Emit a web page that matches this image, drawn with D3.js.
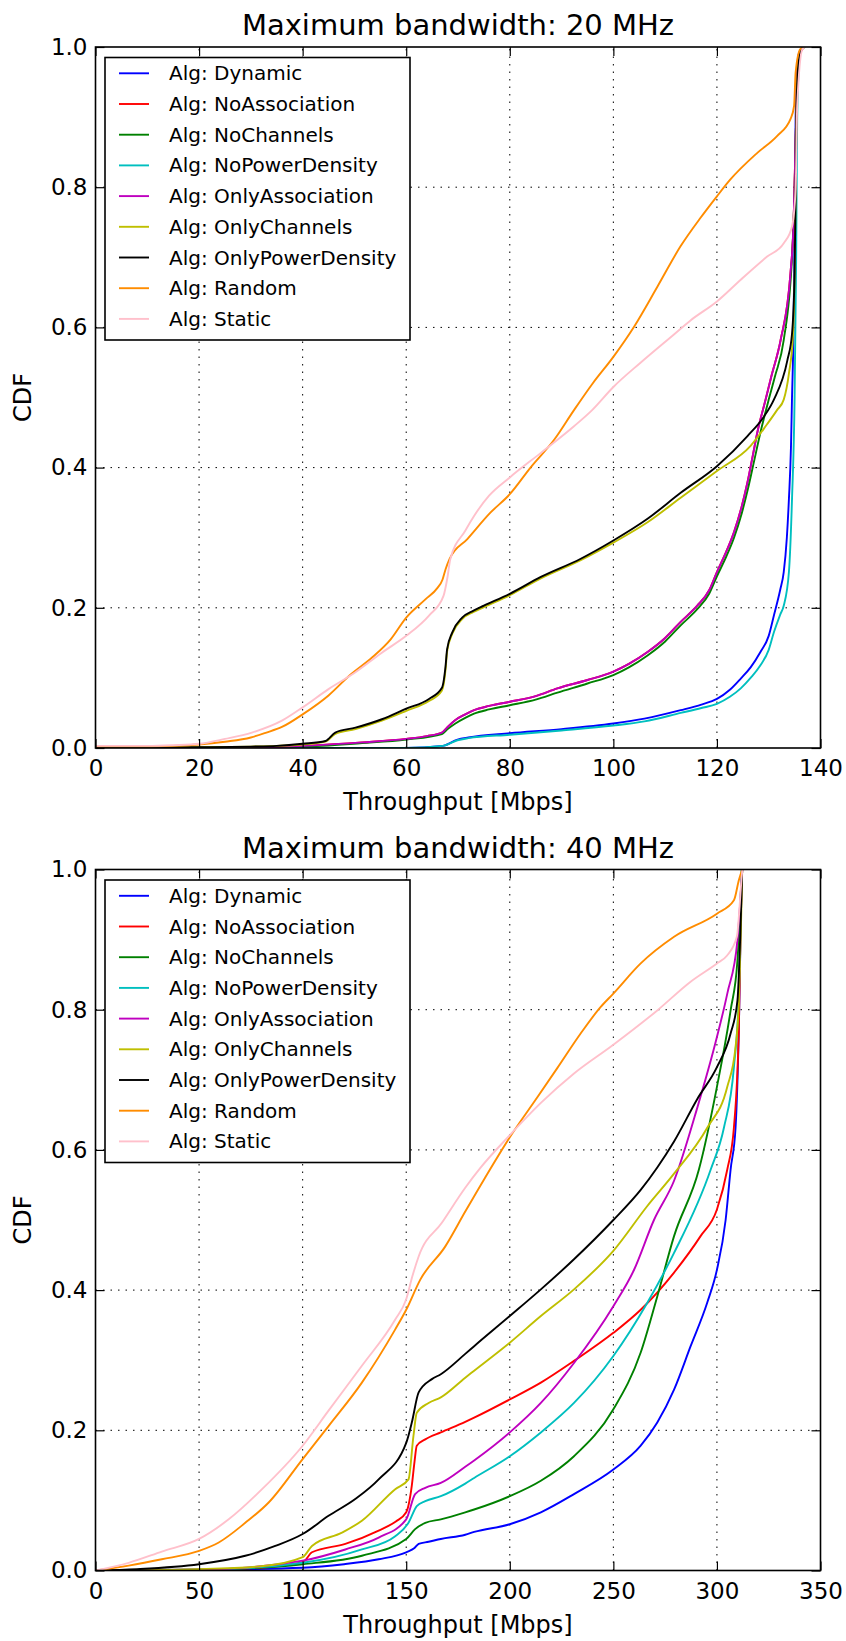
<!DOCTYPE html>
<html>
<head>
<meta charset="utf-8">
<script src="https://cdn.jsdelivr.net/npm/d3@7"></script>
<style>
  body { margin: 0; background: #fff; }
  svg { display: block; font-family: "DejaVu Sans", sans-serif; }
</style>
</head>
<body>
<svg id="chart" width="846" height="1641"></svg>
<script>
// Legend labels and matplotlib classic colours
const algorithms = ["Alg: Dynamic", "Alg: NoAssociation", "Alg: NoChannels", "Alg: NoPowerDensity",
  "Alg: OnlyAssociation", "Alg: OnlyChannels", "Alg: OnlyPowerDensity", "Alg: Random", "Alg: Static"];
const colors = ["#0000ff", "#ff0000", "#008000", "#00bfbf", "#bf00bf", "#bfbf00", "#000000", "#ff8c00", "#ffc0cb"];

const yTicks = [0, 0.2, 0.4, 0.6, 0.8, 1.0];
const xTicks20 = [0, 20, 40, 60, 80, 100, 120, 140];
const xTicks40 = [0, 50, 100, 150, 200, 250, 300, 350];

// ---- 20 MHz: [throughput, cdf] ----
const dynamic20 = [[0,0],[60,0],[67,0.003],[69.9,0.012],[72,0.015],[80,0.021],[90,0.027],[100,0.035],[106,0.042],[113,0.054],[117,0.062],[120,0.07],[122.5,0.083],[124.6,0.099],[126.5,0.115],[128.4,0.137],[130,0.16],[131,0.189],[132.2,0.225],[132.9,0.251],[133.5,0.3],[133.9,0.355],[134.3,0.43],[134.5,0.5],[134.8,0.6],[135,0.75],[135.2,0.9],[135.4,0.95],[135.8,0.99],[136.6,1]];
// NoAssociation sits under OnlyAssociation in this panel
const noAssociation20 = [[0,0],[30,0],[40,0.003],[51.5,0.008],[60,0.013],[64,0.017],[66.9,0.022],[68,0.03],[69.5,0.04],[71.4,0.048],[73.1,0.054],[76,0.06],[80,0.066],[85,0.074],[89.2,0.085],[95,0.097],[100,0.109],[103,0.12],[106.6,0.137],[110,0.157],[113,0.18],[116.2,0.203],[118.5,0.225],[120,0.251],[121.8,0.28],[123.3,0.308],[124.8,0.345],[125.9,0.379],[127,0.42],[127.8,0.45],[129.4,0.497],[130.5,0.53],[132.3,0.582],[134.2,0.677],[134.8,0.749],[135.2,0.868],[135.5,0.95],[136,0.99],[136.8,1]];
const noChannels20 = [[0,0],[40,0.002],[51.5,0.007],[60,0.012],[66.9,0.02],[68,0.027],[69.5,0.035],[71.4,0.043],[73.1,0.049],[76,0.055],[80,0.061],[85,0.069],[89.2,0.079],[95,0.092],[100,0.104],[103,0.115],[106.6,0.132],[110,0.152],[113,0.175],[116.2,0.198],[118.5,0.22],[120,0.245],[121.8,0.273],[123.3,0.3],[124.8,0.335],[126,0.37],[127.2,0.41],[128.4,0.45],[130,0.497],[131.2,0.53],[132.9,0.582],[134.5,0.7],[135,0.8],[135.3,0.9],[135.6,0.96],[136.2,0.995],[137,1]];
const noPowerDensity20 = [[0,0],[60,0],[67,0.003],[69.9,0.011],[72,0.014],[80,0.019],[90,0.025],[100,0.032],[106,0.038],[113,0.05],[117,0.057],[120,0.063],[122.5,0.073],[124.6,0.085],[126.5,0.1],[128.4,0.118],[130,0.14],[131,0.165],[132.2,0.19],[132.9,0.203],[133.9,0.251],[134.5,0.355],[135,0.5],[135.3,0.7],[135.5,0.9],[135.8,0.97],[136.2,0.995],[137,1]];
const onlyAssociation20 = [[0,0],[30,0],[40,0.003],[51.5,0.008],[60,0.013],[64,0.017],[66.9,0.022],[68,0.03],[69.5,0.04],[71.4,0.048],[73.1,0.054],[76,0.06],[80,0.066],[85,0.074],[89.2,0.085],[95,0.097],[100,0.109],[103,0.12],[106.6,0.137],[110,0.157],[113,0.18],[116.2,0.203],[118.5,0.225],[120,0.251],[121.8,0.28],[123.3,0.308],[124.8,0.345],[125.9,0.379],[127,0.42],[127.8,0.45],[129.4,0.497],[130.5,0.53],[132.3,0.582],[134.2,0.677],[134.8,0.749],[135.2,0.868],[135.5,0.95],[136,0.99],[136.8,1]];
const onlyChannels20 = [[0,0],[20,0.001],[30,0.002],[35,0.003],[40,0.005],[44.4,0.009],[46.3,0.02],[50.2,0.027],[55.3,0.039],[60,0.053],[64.4,0.067],[66.9,0.082],[67.6,0.112],[67.9,0.138],[68.9,0.163],[70.8,0.184],[73,0.194],[75,0.201],[80,0.218],[86,0.242],[93.7,0.268],[100,0.293],[106.6,0.322],[113,0.357],[120,0.395],[126.5,0.431],[129.5,0.46],[131.6,0.482],[132.9,0.497],[133.9,0.534],[134.7,0.59],[135,0.677],[135.2,0.8],[135.4,0.92],[135.8,0.98],[136.5,1]];
const onlyPowerDensity20 = [[0,0],[20,0.001],[30,0.002],[35,0.003],[40,0.006],[44.4,0.01],[46.3,0.022],[50.2,0.029],[55.3,0.041],[60,0.056],[64.4,0.07],[66.9,0.086],[67.6,0.117],[67.9,0.141],[68.9,0.165],[70.8,0.186],[73,0.196],[75,0.203],[80,0.22],[86,0.244],[93.7,0.27],[100,0.296],[106.6,0.327],[113,0.364],[120,0.402],[125.9,0.445],[129.1,0.473],[131,0.497],[133.6,0.553],[134.5,0.591],[135,0.677],[135.2,0.797],[135.4,0.92],[135.8,0.98],[136.5,1]];
const random20 = [[0,0.002],[10,0.002],[15,0.003],[20,0.005],[25,0.009],[30,0.015],[33,0.022],[36,0.03],[40,0.048],[45,0.075],[49,0.103],[53.4,0.129],[57,0.155],[60,0.186],[63.7,0.212],[66,0.228],[67,0.24],[67.6,0.255],[68.4,0.27],[71.8,0.298],[76.3,0.336],[80,0.362],[84,0.4],[88.6,0.44],[92.4,0.482],[96,0.52],[100,0.558],[104,0.601],[108.5,0.658],[113,0.716],[116.8,0.756],[120,0.787],[122.6,0.811],[127.8,0.849],[131.6,0.873],[134.2,0.897],[134.9,0.916],[135.2,0.964],[136.1,0.997],[136.8,1]];
const static20 = [[0,0.003],[10,0.003],[15,0.004],[20,0.006],[25,0.013],[30.2,0.022],[36,0.039],[40,0.058],[45,0.084],[50.2,0.108],[55.3,0.136],[60,0.16],[64.4,0.189],[67.2,0.217],[68,0.245],[68.5,0.269],[71.4,0.31],[73.1,0.331],[76,0.36],[80,0.386],[86,0.421],[92.4,0.459],[95.9,0.482],[100,0.515],[105.3,0.55],[111.7,0.59],[114.9,0.61],[120,0.637],[124.6,0.668],[129.7,0.701],[132.9,0.72],[134.5,0.744],[135.2,0.797],[135.5,0.916],[136.5,0.997],[137,1]];

// ---- 40 MHz ----
const dynamic40 = [[0,0],[50,0.001],[100,0.004],[120,0.009],[136.7,0.016],[150,0.026],[154,0.032],[156,0.038],[160.8,0.041],[166.7,0.045],[178.5,0.051],[182.8,0.055],[200,0.066],[215,0.083],[231,0.109],[250,0.144],[263.2,0.178],[271.2,0.211],[279.3,0.258],[287.3,0.32],[295.3,0.382],[300,0.429],[304.2,0.5],[306.6,0.572],[309,0.632],[310.6,0.775],[311.8,0.966],[312.2,1]];
const noAssociation40 = [[0,0],[50,0.001],[80,0.004],[100,0.012],[101,0.014],[104.5,0.026],[120.6,0.038],[136.7,0.057],[145,0.07],[150,0.083],[152.7,0.121],[154,0.155],[155.1,0.178],[159.2,0.187],[166.7,0.197],[178.5,0.212],[182.8,0.218],[200,0.244],[215,0.268],[231,0.299],[250,0.339],[263.2,0.372],[279.3,0.425],[292.1,0.477],[300,0.515],[305,0.572],[308.2,0.632],[310.6,0.775],[311.4,0.918],[312.2,1]];
const noChannels40 = [[0,0],[50,0.001],[100,0.009],[128.6,0.021],[150,0.045],[154.3,0.059],[159.2,0.068],[166.7,0.073],[178.5,0.083],[182.8,0.087],[200,0.106],[215,0.128],[231,0.163],[250,0.23],[263.2,0.311],[271.2,0.391],[279.3,0.477],[291.3,0.572],[300,0.69],[306.6,0.799],[309.9,0.87],[312,1]];
const noPowerDensity40 = [[0,0],[50,0.001],[100,0.011],[128.6,0.03],[144.7,0.049],[151.1,0.068],[155.1,0.092],[159.2,0.099],[166.7,0.106],[178.5,0.124],[182.8,0.132],[200,0.163],[215,0.197],[231,0.239],[250,0.306],[266.4,0.382],[279.3,0.453],[297,0.572],[303.4,0.632],[308.2,0.718],[310.6,0.823],[312,1]];
const onlyAssociation40 = [[0,0],[50,0.001],[100,0.014],[120.6,0.03],[136.7,0.047],[150,0.073],[154.3,0.109],[159.2,0.118],[166.7,0.125],[178.5,0.148],[182.8,0.157],[200,0.197],[215,0.239],[231,0.296],[250,0.377],[260,0.429],[269.6,0.5],[279.3,0.556],[290.6,0.661],[300,0.761],[305,0.823],[309.9,0.899],[312.2,1]];
const onlyChannels40 = [[0,0],[50,0.002],[80,0.006],[100,0.019],[104.5,0.035],[119,0.054],[128.6,0.071],[144.7,0.116],[151.1,0.13],[153.5,0.192],[155.1,0.225],[160.8,0.239],[166.7,0.247],[178.5,0.275],[182.8,0.285],[200,0.325],[215,0.363],[231,0.401],[250,0.456],[266.4,0.52],[279,0.565],[295.4,0.632],[305,0.69],[309,0.747],[310.6,0.813],[311.6,0.918],[312.2,1]];
const onlyPowerDensity40 = [[0,0],[20,0.002],[50,0.009],[72.3,0.021],[86.8,0.035],[100,0.052],[112.5,0.078],[125.4,0.102],[136.7,0.13],[150,0.182],[152.7,0.211],[156,0.254],[162.4,0.273],[166.7,0.28],[178.5,0.309],[182.8,0.32],[200,0.363],[215,0.401],[231,0.444],[250,0.5],[263.2,0.543],[271.2,0.575],[279.3,0.612],[290.6,0.673],[300,0.718],[306.6,0.766],[309.9,0.813],[311.4,0.918],[312.2,1]];
const random40 = [[0,0],[16,0.007],[32,0.016],[50,0.028],[59.5,0.04],[72.3,0.068],[83.6,0.097],[100,0.159],[112.5,0.206],[128.6,0.268],[144.7,0.344],[150,0.372],[156.8,0.415],[168.8,0.462],[178.5,0.512],[188,0.56],[200,0.618],[213.3,0.675],[223,0.717],[234.2,0.766],[243.9,0.804],[250,0.823],[263.2,0.866],[279.3,0.904],[300,0.937],[308.2,0.956],[310.6,0.985],[312.2,1]];
const static40 = [[0,0],[16,0.011],[32,0.027],[50,0.045],[64.3,0.073],[80.4,0.116],[100,0.178],[112.5,0.228],[128.6,0.292],[144.7,0.358],[150,0.387],[153,0.42],[156,0.448],[167.2,0.496],[178.5,0.546],[186,0.575],[200,0.621],[215,0.667],[231,0.709],[250,0.75],[271.2,0.799],[287.3,0.84],[300,0.866],[304.8,0.877],[309.6,0.904],[312.1,0.994],[312.3,1]];

const panels = [
  { title: "Maximum bandwidth: 20 MHz", xMax: 140, xTicks: xTicks20, top: 47,
    series: [dynamic20, noAssociation20, noChannels20, noPowerDensity20, onlyAssociation20,
             onlyChannels20, onlyPowerDensity20, random20, static20] },
  { title: "Maximum bandwidth: 40 MHz", xMax: 350, xTicks: xTicks40, top: 869.5,
    series: [dynamic40, noAssociation40, noChannels40, noPowerDensity40, onlyAssociation40,
             onlyChannels40, onlyPowerDensity40, random40, static40] }
];

const plotLeft = 95.5, plotRight = 820.5, plotHeight = 701;
const svg = d3.select("#chart");

panels.forEach((p, pi) => {
  const x = d3.scaleLinear().domain([0, p.xMax]).range([plotLeft, plotRight]);
  const y = d3.scaleLinear().domain([0, 1]).range([p.top + plotHeight, p.top]);
  const g = svg.append("g");

  // Dotted grid
  g.append("g").selectAll("line").data(p.xTicks.slice(1, -1)).enter().append("line")
    .attr("x1", d => x(d)).attr("x2", d => x(d))
    .attr("y1", y(0)).attr("y2", y(1))
    .attr("stroke", "#000").attr("stroke-width", 1).attr("stroke-dasharray", "1.5,6");
  g.append("g").selectAll("line").data(yTicks.slice(1, -1)).enter().append("line")
    .attr("x1", plotLeft).attr("x2", plotRight)
    .attr("y1", d => y(d)).attr("y2", d => y(d))
    .attr("stroke", "#000").attr("stroke-width", 1).attr("stroke-dasharray", "1.5,6");

  // Clip lines to the axes box
  const clipId = "clip" + pi;
  g.append("clipPath").attr("id", clipId).append("rect")
    .attr("x", plotLeft).attr("y", p.top).attr("width", plotRight - plotLeft).attr("height", plotHeight);

  const line = d3.line().x(d => x(d[0])).y(d => y(d[1])).curve(d3.curveMonotoneX);
  g.append("g").attr("clip-path", `url(#${clipId})`)
    .selectAll("path").data(p.series).enter().append("path")
    .attr("d", line)
    .attr("fill", "none")
    .attr("stroke", (d, i) => colors[i])
    .attr("stroke-width", 1.9)
    .attr("stroke-linejoin", "round");

  // Axes with inward ticks on all four sides
  const axisStyle = sel => {
    sel.select(".domain").remove();
    sel.selectAll(".tick line").attr("stroke", "#000").attr("stroke-width", 1.2);
    sel.selectAll("text").attr("font-size", 23).attr("fill", "#000").attr("font-family", "DejaVu Sans");
  };
  g.append("g").attr("transform", `translate(0,${y(0)})`)
    .call(d3.axisBottom(x).tickValues(p.xTicks).tickFormat(d3.format("d")).tickSizeInner(-9).tickPadding(12))
    .call(axisStyle);
  g.append("g").attr("transform", `translate(0,${y(1)})`)
    .call(d3.axisTop(x).tickValues(p.xTicks).tickFormat("").tickSizeInner(-9))
    .call(axisStyle);
  g.append("g").attr("transform", `translate(${plotLeft},0)`)
    .call(d3.axisLeft(y).tickValues(yTicks).tickFormat(d3.format(".1f")).tickSizeInner(-9).tickPadding(8))
    .call(axisStyle);
  g.append("g").attr("transform", `translate(${plotRight},0)`)
    .call(d3.axisRight(y).tickValues(yTicks).tickFormat("").tickSizeInner(-9))
    .call(axisStyle);

  // Frame
  g.append("rect")
    .attr("x", plotLeft).attr("y", p.top)
    .attr("width", plotRight - plotLeft).attr("height", plotHeight)
    .attr("fill", "none").attr("stroke", "#000").attr("stroke-width", 1.6);

  // Legend
  const legend = g.append("g").attr("transform", `translate(105,${p.top + 10.5})`);
  legend.append("rect")
    .attr("width", 305).attr("height", 282.5)
    .attr("fill", "#fff").attr("stroke", "#000").attr("stroke-width", 1.6);
  const items = legend.selectAll(".item").data(algorithms).enter().append("g")
    .attr("transform", (d, i) => `translate(0,${15.8 + i * 30.7})`);
  items.append("line").attr("x1", 14).attr("x2", 44)
    .attr("stroke", (d, i) => colors[i]).attr("stroke-width", 1.9);
  items.append("text").attr("x", 64).attr("dy", "0.35em")
    .attr("font-size", 20).attr("fill", "#000").text(d => d);

  // Title and axis labels
  g.append("text")
    .attr("x", (plotLeft + plotRight) / 2).attr("y", p.top - 12)
    .attr("text-anchor", "middle").attr("font-size", 29).attr("fill", "#000")
    .text(p.title);
  g.append("text")
    .attr("x", (plotLeft + plotRight) / 2).attr("y", p.top + plotHeight + 62)
    .attr("text-anchor", "middle").attr("font-size", 24).attr("fill", "#000")
    .text("Throughput [Mbps]");
  g.append("text")
    .attr("transform", `translate(31,${p.top + plotHeight / 2}) rotate(-90)`)
    .attr("text-anchor", "middle").attr("font-size", 24).attr("fill", "#000")
    .text("CDF");
});
</script>
</body>
</html>
